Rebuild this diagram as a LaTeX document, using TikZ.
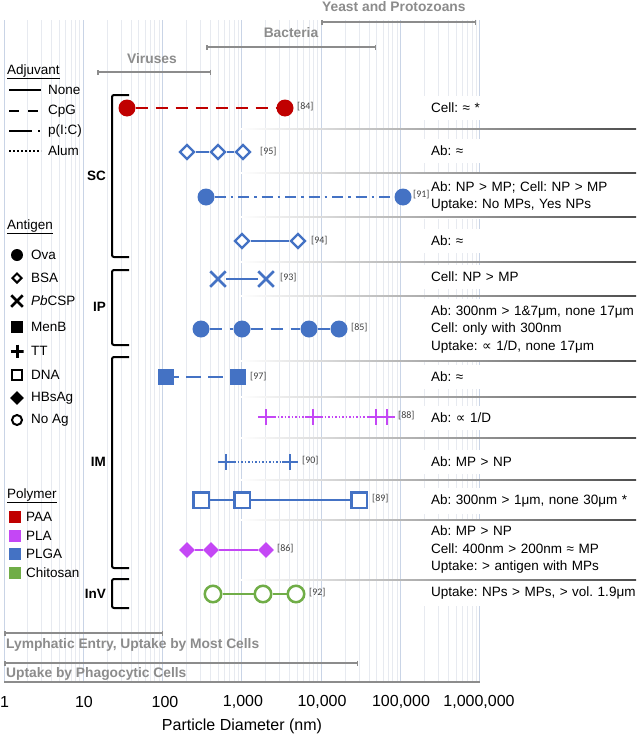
\documentclass[tikz,border=0pt]{standalone}
\usepackage{fontspec}
\setmainfont{Liberation Sans}
\newfontfamily\dejavu{DejaVu Sans}
\newfontfamily\carl{Carlito}
\usetikzlibrary{shapes.geometric,shapes.misc,arrows.meta}
\definecolor{paa}{HTML}{C00000}
\definecolor{pla}{HTML}{C447F5}
\definecolor{plga}{HTML}{4472C4}
\definecolor{chit}{HTML}{70AD47}
\definecolor{hdrgray}{HTML}{8C8C8C}
\definecolor{gmaj}{HTML}{C9D4E6}
\definecolor{gmin}{HTML}{E7EAF0}
\newcommand{\prop}{{\dejavu ∝}}
\tikzset{
  rt/.style={anchor=west, fill=white, inner xsep=7pt, inner ysep=7pt, align=left,
    text width=212pt, font=\fontsize{13.5}{17.5}\selectfont\frenchspacing},
  hdrtxt/.style={text=hdrgray, font=\bfseries\fontsize{13.8}{16}\selectfont, inner sep=0pt},
  reflbl/.style={anchor=west, font=\carl\fontsize{10}{12}\selectfont, inner sep=0pt, text=black!75},
  lg/.style={anchor=west, font=\fontsize{13.5}{16}\selectfont, inner sep=0pt},
  brl/.style={anchor=east, font=\bfseries\fontsize{13.5}{16}\selectfont, inner sep=0pt},
  axl/.style={font=\fontsize{16}{18}\selectfont, inner sep=0pt},
  grbar/.style={hdrgray, line width=1.5pt, {Bar[width=5pt]}-{Bar[width=5pt]}},
  brk/.style={line width=2pt, rounded corners=2pt},
  sep/.style={left color=white, middle color=black!35, right color=black!70},
  conn/.style={line width=2.2pt},
  fcirc/.style={circle, fill=#1, minimum size=17pt, inner sep=0pt},
  ocirc/.style={circle, draw=#1, fill=white, line width=2.5pt, minimum size=16.5pt, inner sep=0pt},
  odiam/.style={diamond, draw=#1, fill=white, line width=2.3pt, minimum size=15pt, inner sep=0pt},
  fdiam/.style={diamond, fill=#1, minimum size=16pt, inner sep=0pt},
  osq/.style={rectangle, draw=#1, fill=white, line width=2.5pt, minimum size=15.5pt, inner sep=0pt},
  fsq/.style={rectangle, fill=#1, minimum size=16.5pt, inner sep=0pt},
  xm/.style={cross out, draw=#1, line width=2.5pt, minimum size=13pt, inner sep=0pt},
  plusm/.style={rectangle, minimum size=16pt, inner sep=0pt,
    path picture={\draw[#1, line width=2.5pt] (path picture bounding box.north) -- (path picture bounding box.south)
      (path picture bounding box.west) -- (path picture bounding box.east);}},
}
\begin{document}
\frenchspacing
\begin{tikzpicture}[x=1pt,y=-1pt]
\useasboundingbox[fill=white] (0,0) rectangle (641,736);
% grid
\foreach \k in {0,...,5}{\foreach \m in {2,...,9}{%
  \pgfmathsetmacro\gx{4+79.33*(\k+ln(\m)/ln(10))}%
  \draw[gmin, line width=1pt] (\gx,20) -- (\gx,682);}}
\foreach \k in {0,...,6}{\pgfmathsetmacro\gx{4+79.33*\k}%
  \draw[gmaj, line width=1pt] (\gx,20) -- (\gx,682);}
% size classes
\node[hdrtxt] (vir) at (152,59) {Viruses};
\draw[grbar] (97,72) -- (211,72);
\node[hdrtxt] (bac) at (291,33) {Bacteria};
\draw[grbar] (206,47) -- (376,47);
\node[hdrtxt, anchor=west] (yst) at (322,7) {Yeast and Protozoans};
\draw[grbar] (321,22) -- (476,22);
\draw[grbar] (4,633) -- (163,633);
\node[hdrtxt, anchor=west] (lym) at (6,645) {Lymphatic Entry, Uptake by Most Cells};
\draw[grbar] (4,663) -- (358,663);
\node[hdrtxt, anchor=west] (pha) at (6,674) {Uptake by Phagocytic Cells};
\draw[hdrgray, line width=1.5pt] (4,682) -- (480,682);
% axis
\node[axl] (a0) at (4.5,702) {1};
\node[axl] (a1) at (84,702) {10};
\node[axl] (a2) at (165,702) {100};
\node[axl] (a3) at (243,702) {1,000};
\node[axl] (a4) at (322,702) {10,000};
\node[axl] (a5) at (401,702) {100,000};
\node[axl] (a6) at (479,702) {1,000,000};
\node[axl] (ttl) at (242,726) {Particle Diameter (nm)};
% right text panel
\node[rt] (t1) at (424,108) {Cell: ≈ *};
\node[rt] (t2) at (424,151) {Ab: ≈};
\node[rt] (t3) at (424,196.5) {Ab: NP > MP; Cell: NP > MP\\Uptake: No MPs, Yes NPs};
\node[rt] (t4) at (424,241) {Ab: ≈};
\node[rt] (t5) at (424,277) {Cell: NP > MP};
\node[rt] (t6) at (424,329.5) {Ab: 300nm > 1\&7μm, none 17μm\\Cell: only with 300nm\\Uptake: \prop{} 1/D, none 17μm};
\node[rt] (t7) at (424,377) {Ab: ≈};
\node[rt] (t8) at (424,418) {Ab: \prop{} 1/D};
\node[rt] (t9) at (424,462) {Ab: MP > NP};
\node[rt] (t10) at (424,501) {Ab: 300nm > 1μm, none 30μm *};
\node[rt] (t11) at (424,550) {Ab: MP > NP\\Cell: 400nm > 200nm ≈ MP\\Uptake: > antigen with MPs};
\node[rt] (t12) at (424,593) {Uptake: NPs > MPs, > vol. 1.9μm};
\foreach \sy in {129,173,217,262,296,361,397,438,480,520,580}{%
  \shade[sep] (240,\sy-0.75) rectangle (636,\sy+0.75);}
% legend
\node[lg, anchor=west] (adj) at (7,72) {\underline{Adjuvant}};
\draw[line width=2.5pt] (9,90) -- (41,90);
\node[lg] (lnone) at (48,90) {None};
\draw[line width=2.5pt] (9,111) -- (19,111) (28,111) -- (38,111);
\node[lg] (lcpg) at (48,111) {CpG};
\draw[line width=2.5pt] (9,131) -- (32,131) (38,131) -- (40,131);
\node[lg] (lpic) at (48,131) {p(I:C)};
\draw[line width=2pt, dash pattern=on 1.6pt off 2.4pt] (9,151) -- (41,151);
\node[lg] (lalum) at (48,151) {Alum};
\node[lg] (ant) at (7,227) {\underline{Antigen}};
\node[circle, fill=black, minimum size=12pt, inner sep=0pt] (sova) at (17,255) {};
\node[lg] (lova) at (31,255) {Ova};
\node[diamond, draw=black, line width=2pt, minimum size=10pt, inner sep=0pt] (sbsa) at (17,278) {};
\node[lg] (lbsa) at (31,278) {BSA};
\node[cross out, draw=black, line width=2.5pt, minimum size=9pt, inner sep=0pt] (spb) at (17,301) {};
\node[lg] (lpb) at (31,301) {\textit{Pb}CSP};
\node[fill=black, minimum size=12pt, inner sep=0pt] (smen) at (17,327) {};
\node[lg] (lmen) at (31,327) {MenB};
\node[rectangle, minimum size=13pt, inner sep=0pt, path picture={\draw[black, line width=3pt] (path picture bounding box.north) -- (path picture bounding box.south) (path picture bounding box.west) -- (path picture bounding box.east);}] (stt) at (17,351) {};
\node[lg] (ltt) at (31,351) {TT};
\node[draw=black, line width=2pt, minimum size=10pt, inner sep=0pt] (sdna) at (17,375) {};
\node[lg] (ldna) at (31,375) {DNA};
\node[diamond, fill=black, minimum size=14pt, inner sep=0pt] (shbs) at (17,398) {};
\node[lg] (lhbs) at (31,398) {HBsAg};
\node[circle, draw=black, line width=2pt, minimum size=10pt, inner sep=0pt] (snoag) at (17,420) {};
\node[lg] (lnoag) at (31,420) {No Ag};
\node[lg] (pol) at (7,496) {\underline{Polymer}};
\node[fill=paa, minimum size=12pt, inner sep=0pt] (spaa) at (15,517) {};
\node[lg] (lpaa) at (26,517) {PAA};
\node[fill=pla, minimum size=12pt, inner sep=0pt] (spla) at (15,536) {};
\node[lg] (lpla) at (26,536) {PLA};
\node[fill=plga, minimum size=12pt, inner sep=0pt] (splga) at (15,554) {};
\node[lg] (lplga) at (26,554) {PLGA};
\node[fill=chit, minimum size=12pt, inner sep=0pt] (schit) at (15,573) {};
\node[lg] (lchit) at (26,573) {Chitosan};
% brackets
\draw[brk] (129,95) -- (112,95) -- (112,257) -- (129,257);
\node[brl] (bsc) at (106,176) {SC};
\draw[brk] (129,270) -- (112,270) -- (112,345) -- (129,345);
\node[brl] (bip) at (106,307) {IP};
\draw[brk] (129,357) -- (112,357) -- (112,568) -- (129,568);
\node[brl] (bim) at (106,462) {IM};
\draw[brk] (129,579) -- (112,579) -- (112,608) -- (129,608);
\node[brl] (binv) at (106,594) {InV};
% row 1 [84]
\node[fcirc=paa] (r1a) at (127,108) {};
\node[fcirc=paa] (r1b) at (285,108) {};
\draw[conn, paa, dash pattern=on 12pt off 8pt] (r1a) -- (r1b);
\node[reflbl] (l84) at (297,107) {[84]};
% row 2 [95]
\node[odiam=plga] (r2a) at (187,152) {};
\node[odiam=plga] (r2b) at (218,152) {};
\node[odiam=plga] (r2c) at (243,152) {};
\draw[conn, plga] (r2a) -- (r2b) (r2b) -- (r2c);
\node[reflbl] (l95) at (260,152) {[95]};
% row 3 [91]
\node[fcirc=plga] (r3a) at (206,197) {};
\node[fcirc=plga] (r3b) at (403,197) {};
\draw[conn, plga, dash pattern=on 11pt off 5pt on 2.5pt off 5pt] (r3a) -- (r3b);
\node[reflbl] (l91) at (413,195) {[91]};
% row 4 [94]
\node[odiam=plga] (r4a) at (242,241) {};
\node[odiam=plga] (r4b) at (298,241) {};
\draw[conn, plga] (r4a) -- (r4b);
\node[reflbl] (l94) at (311,241) {[94]};
% row 5 [93]
\node[xm=plga] (r5a) at (218,279) {};
\node[xm=plga] (r5b) at (266,279) {};
\draw[conn, plga] (r5a) -- (r5b);
\node[reflbl] (l93) at (280,278) {[93]};
% row 6 [85]
\node[fcirc=plga] (r6a) at (201,329) {};
\node[fcirc=plga] (r6b) at (242,329) {};
\node[fcirc=plga] (r6c) at (309,329) {};
\node[fcirc=plga] (r6d) at (339,329) {};
\draw[conn, plga, dash pattern=on 12pt off 8pt] (r6a) -- (r6b) (r6b) -- (r6c) (r6c) -- (r6d);
\node[reflbl] (l85) at (351,328) {[85]};
% row 7 [97]
\node[fsq=plga] (r7a) at (166,377) {};
\node[fsq=plga] (r7b) at (238,377) {};
\draw[conn, plga, dash pattern=on 15pt off 7pt, dash phase=10pt] (r7a) -- (r7b);
\node[reflbl] (l97) at (250,377) {[97]};
% row 8 [88]
\node[plusm=pla] (r8a) at (266,417) {};
\node[plusm=pla] (r8b) at (313,417) {};
\node[plusm=pla] (r8c) at (376,417) {};
\node[plusm=pla] (r8d) at (387,417) {};
\draw[pla, line width=2pt, dash pattern=on 1.5pt off 2pt] (r8a) -- (r8b) (r8b) -- (r8c);
\node[reflbl] (l88) at (398,416) {[88]};
% row 9 [90]
\node[plusm=plga] (r9a) at (226,462) {};
\node[plusm=plga] (r9b) at (290,462) {};
\draw[plga, line width=2pt, dash pattern=on 1.5pt off 2pt] (r9a) -- (r9b);
\node[reflbl] (l90) at (302,461) {[90]};
% row 10 [89]
\node[osq=plga] (r10a) at (201,500) {};
\node[osq=plga] (r10b) at (242,500) {};
\node[osq=plga] (r10c) at (359,500) {};
\draw[conn, plga] (r10a) -- (r10b) (r10b) -- (r10c);
\node[reflbl] (l89) at (372,499) {[89]};
% row 11 [86]
\node[fdiam=pla] (r11a) at (187,550) {};
\node[fdiam=pla] (r11b) at (211,550) {};
\node[fdiam=pla] (r11c) at (266,550) {};
\draw[conn, pla] (r11a) -- (r11b) (r11b) -- (r11c);
\node[reflbl] (l86) at (277,549) {[86]};
% row 12 [92]
\node[ocirc=chit] (r12a) at (213,594) {};
\node[ocirc=chit] (r12b) at (263,594) {};
\node[ocirc=chit] (r12c) at (296,594) {};
\draw[conn, chit] (r12a) -- (r12b) (r12b) -- (r12c);
\node[reflbl] (l92) at (309,593) {[92]};
\end{tikzpicture}
\end{document}
